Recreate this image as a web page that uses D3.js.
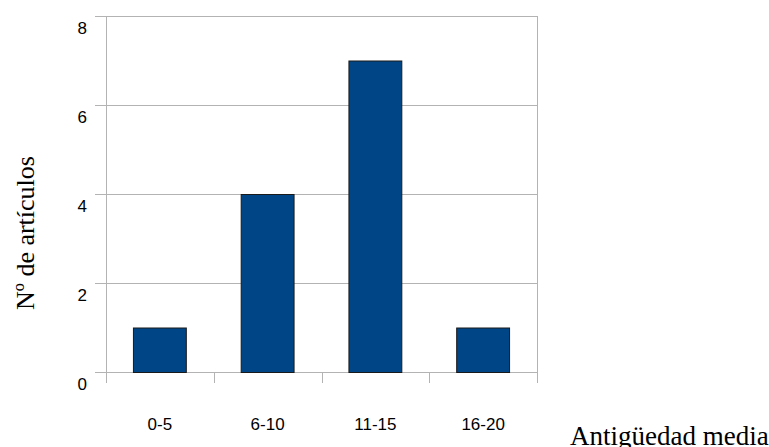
<!DOCTYPE html>
<html><head><meta charset="utf-8">
<script src="https://cdn.jsdelivr.net/npm/d3@7"></script>
<style>body{margin:0;background:#fff}svg{display:block}</style>
</head><body>
<svg id="c" width="769" height="447"></svg>
<script>
const categories = ["0-5","6-10","11-15","16-20"];
const values = [1,4,7,1];
const yTicks = [0,2,4,6,8];
const yTitle = "Nº de artículos";
const xTitle = "Antigüedad media";

const svg = d3.select("#c");
const L = 106, R = 537, T = 16, B = 372;
const x = d3.scaleBand().domain(categories).range([L,R]).paddingInner(0.5).paddingOuter(0.25);
const xb = d3.scaleBand().domain(categories).range([L,R]);
const y = d3.scaleLinear().domain([0,8]).range([B,T]);
const grid = "#b3b3b3";

// gridlines with outward ticks
svg.append("g").selectAll("line").data(yTicks).join("line")
  .attr("x1",95).attr("x2",R).attr("y1",d=>y(d)+0.5).attr("y2",d=>y(d)+0.5)
  .attr("stroke",grid).attr("stroke-width",1);
// vertical axis
svg.append("line").attr("x1",L+0.5).attr("x2",L+0.5).attr("y1",T).attr("y2",B+11).attr("stroke",grid);
// category ticks and right border
svg.append("g").selectAll("line").data(categories.slice(1).map(c=>xb(c)).concat([R])).join("line")
  .attr("x1",d=>Math.round(d)+0.5).attr("x2",d=>Math.round(d)+0.5)
  .attr("y1",d=>d===R?T:B).attr("y2",B+11).attr("stroke",grid);

// bars
svg.append("g").selectAll("rect").data(values).join("rect")
  .attr("x",(d,i)=>x(categories[i])+0.5).attr("width",x.bandwidth()-1)
  .attr("y",d=>y(d)+0.5).attr("height",d=>B-y(d))
  .attr("fill","#004586").attr("stroke","#1a1a1a").attr("stroke-width",1);

// y tick labels
svg.append("g").selectAll("text").data(yTicks).join("text")
  .attr("x",87).attr("y",d=>y(d)+18).attr("text-anchor","end")
  .attr("font-family","'Liberation Sans',Arial,sans-serif").attr("font-size",17).attr("fill","#000")
  .text(d=>d);
// x tick labels
svg.append("g").selectAll("text").data(categories).join("text")
  .attr("x",d=>xb(d)+xb.bandwidth()/2).attr("y",430).attr("text-anchor","middle")
  .attr("font-family","'Liberation Sans',Arial,sans-serif").attr("font-size",17).attr("fill","#000")
  .text(d=>d);

// titles
svg.append("text").attr("transform","translate(34,233) rotate(-90)").attr("text-anchor","middle")
  .attr("font-family","'Liberation Serif','Times New Roman',serif").attr("font-size",26).attr("fill","#000")
  .text(yTitle);
svg.append("text").attr("x",570).attr("y",445)
  .attr("font-family","'Liberation Serif','Times New Roman',serif").attr("font-size",27).attr("fill","#000")
  .text(xTitle);
</script>
</body></html>
